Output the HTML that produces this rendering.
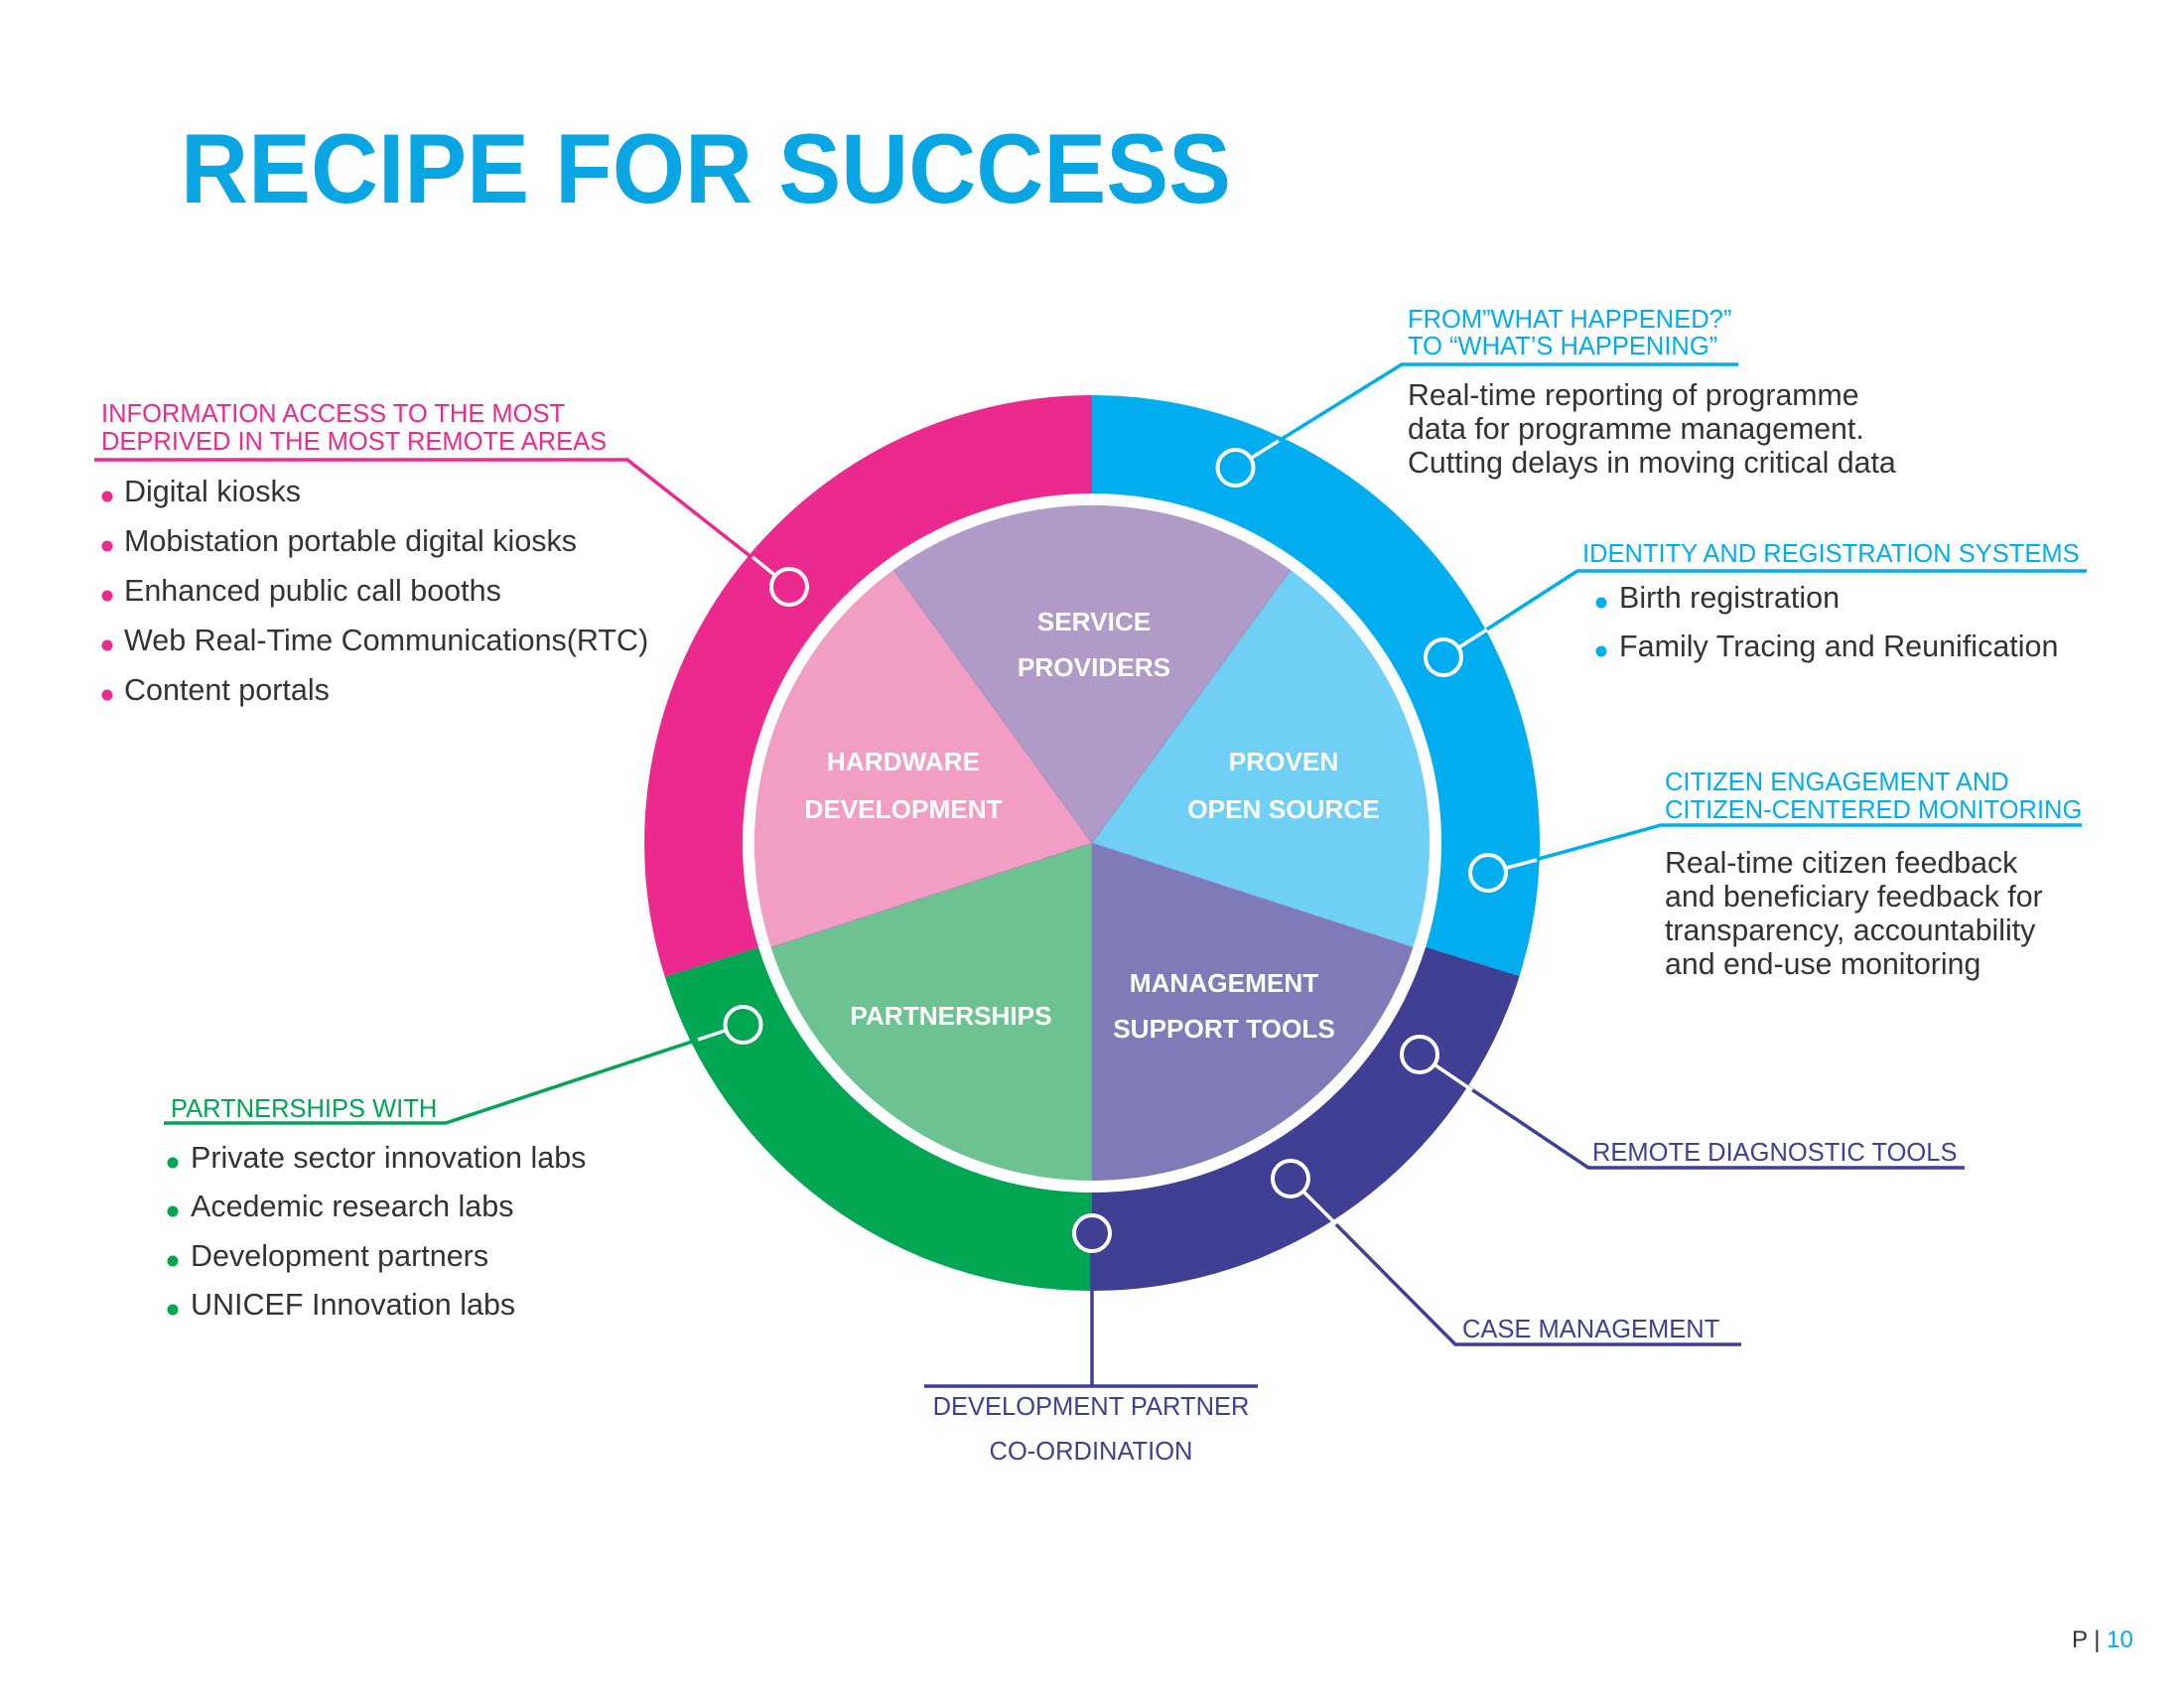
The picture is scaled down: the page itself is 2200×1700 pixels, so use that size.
<!DOCTYPE html>
<html><head><meta charset="utf-8"><style>
html,body{margin:0;padding:0;background:#fff;}
svg{display:block;}
text{font-family:"Liberation Sans",Arial,sans-serif;}
.b{font-size:30.5px;fill:#333;}
.h{font-size:25.5px;}
.p{font-size:26.2px;font-weight:bold;fill:#fff;}
.r{font-size:30.3px;fill:#333;}
</style></head><body>
<svg width="2200" height="1700" viewBox="0 0 2200 1700" xmlns="http://www.w3.org/2000/svg">
<rect width="2200" height="1700" fill="#fff"/>
<text x="182" y="204" font-size="99" font-weight="bold" fill="#0aa5e3" textLength="1058" lengthAdjust="spacingAndGlyphs">RECIPE FOR SUCCESS</text>

<path d="M1100,398 A451,451 0 0,1 1530.6,983.1 L1436.1,953.7 A352,352 0 0,0 1100,497 Z" fill="#00aeef"/>
<path d="M1530.6,983.1 A451,451 0 0,1 1100,1300 L1100,1201 A352,352 0 0,0 1436.1,953.7 Z" fill="#3f3f94"/>
<path d="M1100,1300 A451,451 0 0,1 669.7,983.8 L764.1,954.2 A352,352 0 0,0 1100,1201 Z" fill="#00a651"/>
<path d="M669.7,983.8 A451,451 0 0,1 1100,398 L1100,497 A352,352 0 0,0 764.1,954.2 Z" fill="#ec298e"/>

<path d="M1100,849 L900.1,573.9 A340,340 0 0,1 1299.9,573.9 Z" fill="#b09ac8"/>
<path d="M1100,849 L1299.9,573.9 A340,340 0 0,1 1423.4,954.1 Z" fill="#6fcff5"/>
<path d="M1100,849 L1423.4,954.1 A340,340 0 0,1 1100,1189 Z" fill="#7f7bb9"/>
<path d="M1100,849 L1100,1189 A340,340 0 0,1 776.6,954.1 Z" fill="#6cc391"/>
<path d="M1100,849 L776.6,954.1 A340,340 0 0,1 900.1,573.9 Z" fill="#f29ec4"/>
<g stroke="#8a7fb0" stroke-width="1" opacity="0.6">
<line x1="1100" y1="849" x2="900.1" y2="573.9"/><line x1="1100" y1="849" x2="1299.9" y2="573.9"/>
<line x1="1100" y1="849" x2="1423.4" y2="954.1"/><line x1="1100" y1="849" x2="1100" y2="1189"/>
<line x1="1100" y1="849" x2="776.6" y2="954.1"/></g>

<text class="p" x="1102" y="635" text-anchor="middle">SERVICE</text>
<text class="p" x="1102" y="681" text-anchor="middle">PROVIDERS</text>
<text class="p" x="910" y="776" text-anchor="middle">HARDWARE</text>
<text class="p" x="910" y="824" text-anchor="middle">DEVELOPMENT</text>
<text class="p" x="1293" y="776" text-anchor="middle">PROVEN</text>
<text class="p" x="1293" y="824" text-anchor="middle">OPEN SOURCE</text>
<text class="p" x="958" y="1032" text-anchor="middle">PARTNERSHIPS</text>
<text class="p" x="1233" y="999" text-anchor="middle">MANAGEMENT</text>
<text class="p" x="1233" y="1045" text-anchor="middle">SUPPORT TOOLS</text>

<g fill="none" stroke-width="3.5">
<polyline stroke="#00aeef" points="1244.5,471 1412,367 1751,367"/>
<polyline stroke="#00aeef" points="1454,662 1589,575 2102,575"/>
<polyline stroke="#00aeef" points="1499,879 1673,831 2097,831"/>
<polyline stroke="#3f3f94" points="1430,1062 1600,1176 1979,1176"/>
<polyline stroke="#3f3f94" points="1300,1187 1466,1354 1754,1354"/>
<polyline stroke="#3f3f94" points="1100,1242 1100,1396"/>
<line stroke="#3f3f94" x1="931" y1="1396" x2="1267" y2="1396"/>
<polyline stroke="#00a651" points="748.5,1032 449,1131 165,1131"/>
<polyline stroke="#ec298e" points="795,591 632,463 95,463"/>
</g>
<g fill="none" stroke="#fff" stroke-width="3.5">
<line x1="1244.5" y1="471" x2="1288" y2="444"/>
<line x1="1454" y1="662" x2="1498" y2="634"/>
<line x1="1499" y1="879" x2="1548" y2="866"/>
<line x1="1430" y1="1062" x2="1483" y2="1098"/>
<line x1="1300" y1="1187" x2="1346" y2="1233"/>
<line x1="748.5" y1="1032" x2="703" y2="1047"/>
<line x1="795" y1="591" x2="758" y2="561"/>
</g>
<g stroke="#fff" stroke-width="4">
<circle cx="1244.5" cy="471" r="18" fill="#00aeef"/>
<circle cx="1454" cy="662" r="18" fill="#00aeef"/>
<circle cx="1499" cy="879" r="18" fill="#00aeef"/>
<circle cx="1430" cy="1062" r="18" fill="#3f3f94"/>
<circle cx="1300" cy="1187" r="18" fill="#3f3f94"/>
<circle cx="1100" cy="1242" r="18" fill="#3f3f94"/>
<circle cx="748.5" cy="1032" r="18" fill="#00a651"/>
<circle cx="795" cy="591" r="18" fill="#ec298e"/>
</g>

<text class="h" x="102" y="425" fill="#ec298e">INFORMATION ACCESS TO THE MOST</text>
<text class="h" x="102" y="453" fill="#ec298e">DEPRIVED IN THE MOST REMOTE AREAS</text>
<g fill="#ec298e"><circle cx="108" cy="500" r="5.5"/><circle cx="108" cy="550" r="5.5"/><circle cx="108" cy="600" r="5.5"/><circle cx="108" cy="650" r="5.5"/><circle cx="108" cy="700" r="5.5"/></g>
<text class="b" x="125" y="505">Digital kiosks</text>
<text class="b" x="125" y="555">Mobistation portable digital kiosks</text>
<text class="b" x="125" y="605">Enhanced public call booths</text>
<text class="b" x="125" y="655">Web Real-Time Communications(RTC)</text>
<text class="b" x="125" y="705">Content portals</text>

<text class="h" x="1418" y="330" fill="#00aeef">FROM”WHAT HAPPENED?”</text>
<text class="h" x="1418" y="357" fill="#00aeef">TO “WHAT’S HAPPENING”</text>
<text class="r" x="1418" y="408">Real-time reporting of programme</text>
<text class="r" x="1418" y="442">data for programme management.</text>
<text class="r" x="1418" y="476">Cutting delays in moving critical data</text>

<text class="h" x="1594" y="566" fill="#00aeef">IDENTITY AND REGISTRATION SYSTEMS</text>
<g fill="#00aeef"><circle cx="1613" cy="607" r="5.5"/><circle cx="1613" cy="656" r="5.5"/></g>
<text class="b" x="1631" y="612">Birth registration</text>
<text class="b" x="1631" y="661">Family Tracing and Reunification</text>

<text class="h" x="1677" y="796" fill="#00aeef">CITIZEN ENGAGEMENT AND</text>
<text class="h" x="1677" y="824" fill="#00aeef">CITIZEN-CENTERED MONITORING</text>
<text class="r" x="1677" y="879">Real-time citizen feedback</text>
<text class="r" x="1677" y="913">and beneficiary feedback for</text>
<text class="r" x="1677" y="947">transparency, accountability</text>
<text class="r" x="1677" y="981">and end-use monitoring</text>

<text class="h" x="1604" y="1169" fill="#3f3f94">REMOTE DIAGNOSTIC TOOLS</text>
<text class="h" x="1473" y="1347" fill="#3f3f94">CASE MANAGEMENT</text>
<text class="h" x="1099" y="1425" fill="#3f3f94" text-anchor="middle">DEVELOPMENT PARTNER</text>
<text class="h" x="1099" y="1470" fill="#3f3f94" text-anchor="middle">CO-ORDINATION</text>

<text class="h" x="172" y="1125" fill="#00a651">PARTNERSHIPS WITH</text>
<g fill="#00a651"><circle cx="174" cy="1171" r="5.5"/><circle cx="174" cy="1220" r="5.5"/><circle cx="174" cy="1270" r="5.5"/><circle cx="174" cy="1319" r="5.5"/></g>
<text class="b" x="192" y="1176">Private sector innovation labs</text>
<text class="b" x="192" y="1225">Acedemic research labs</text>
<text class="b" x="192" y="1275">Development partners</text>
<text class="b" x="192" y="1324">UNICEF Innovation labs</text>

<text x="2087" y="1659" font-size="24" fill="#333">P  |  <tspan fill="#00aeef">10</tspan></text>
</svg>
</body></html>
